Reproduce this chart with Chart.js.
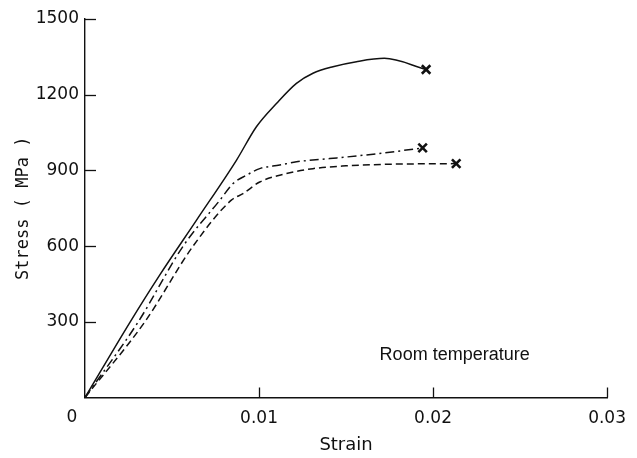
<!DOCTYPE html>
<html>
<head>
<meta charset="utf-8">
<script src="https://cdn.jsdelivr.net/npm/chart.js@4/dist/chart.umd.min.js"></script>
<style>
  html, body { margin: 0; padding: 0; background: #ffffff; }
  #wrap { width: 637px; height: 458px; }
</style>
</head>
<body>
<div id="wrap"><canvas id="c" width="637" height="458"></canvas></div>
<script>
// ---- data ----
const xTicks = [0, 0.01, 0.02, 0.03];
const yTicks = [0, 300, 600, 900, 1200, 1500];

const solidStrain = [0, 0.0026, 0.0043, 0.0064, 0.0087, 0.00985, 0.0110, 0.01215, 0.0131, 0.01425, 0.0156, 0.0172, 0.0196];
const solidStress = [0, 300, 486, 702, 940, 1073, 1165, 1245, 1285, 1311, 1331, 1344, 1300];

const dashDotStrain = [0, 0.00306, 0.00564, 0.00775, 0.00851, 0.00928, 0.01004, 0.01119, 0.01215, 0.01406, 0.0150, 0.01692, 0.0194];
const dashDotStress = [0, 300, 600, 782, 848, 881, 907, 921, 934, 947, 953, 967, 989];

const dashedStrain = [0, 0.00344, 0.00621, 0.00841, 0.00908, 0.01004, 0.01119, 0.0131, 0.0150, 0.0172, 0.02133];
const dashedStress = [0, 300, 600, 782, 808, 854, 881, 907, 918, 924, 927];

const noteText = 'Room temperature';
const xTitle = 'Strain';
const yTitle = 'Stress ( MPa )';

function pts(xs, ys) { return xs.map((x, i) => ({ x: x, y: ys[i] })); }
function endMarker(n) { return Array.from({ length: n }, (_, i) => i === n - 1 ? 6 : 0); }

const ink = '#111111';

const extras = {
  id: 'extras',
  afterDraw(chart) {
    const ctx = chart.ctx;
    const xs = chart.scales.x, ys = chart.scales.y;
    const bottom = ys.bottom;
    ctx.save();
    ctx.strokeStyle = ink;
    ctx.lineWidth = 1.3;
    // inward ticks on y axis
    ys.ticks.forEach(t => {
      if (t.value === 0) return;
      const py = Math.round(ys.getPixelForValue(t.value)) + 0.5;
      ctx.beginPath(); ctx.moveTo(xs.getPixelForValue(0), py); ctx.lineTo(xs.getPixelForValue(0) + 11, py); ctx.stroke();
    });
    // inward ticks on x axis
    xs.ticks.forEach(t => {
      if (t.value === 0) return;
      const px = Math.round(xs.getPixelForValue(t.value)) + 0.5;
      ctx.beginPath(); ctx.moveTo(px, bottom); ctx.lineTo(px, bottom - 10); ctx.stroke();
    });
    // shared origin label
    ctx.fillStyle = ink;
    ctx.font = '17px "DejaVu Sans"';
    ctx.textAlign = 'center';
    ctx.textBaseline = 'middle';
    ctx.fillText('0', xs.getPixelForValue(0) - 13, bottom + 20);
    // annotation
    ctx.font = '18px "Liberation Sans"';
    ctx.textAlign = 'left';
    ctx.textBaseline = 'alphabetic';
    ctx.fillText(noteText, xs.getPixelForValue(0.01693), ys.getPixelForValue(149));
    ctx.restore();
  }
};

const common = { showLine: true, borderColor: ink, backgroundColor: ink, borderWidth: 1.5,
  pointStyle: 'crossRot', pointBorderWidth: 2.6, cubicInterpolationMode: 'monotone', clip: false };

new Chart(document.getElementById('c'), {
  type: 'scatter',
  data: {
    datasets: [
      Object.assign({ data: pts(solidStrain, solidStress), pointRadius: endMarker(solidStrain.length) }, common),
      Object.assign({ data: pts(dashDotStrain, dashDotStress), borderDash: [9, 4, 2, 4], pointRadius: endMarker(dashDotStrain.length) }, common),
      Object.assign({ data: pts(dashedStrain, dashedStress), borderDash: [7, 4], pointRadius: endMarker(dashedStrain.length) }, common)
    ]
  },
  options: {
    responsive: false,
    animation: false,
    events: [],
    layout: { padding: { top: 19, right: 29, left: 0, bottom: 0 } },
    plugins: { legend: { display: false }, tooltip: { enabled: false } },
    scales: {
      x: {
        type: 'linear', min: 0, max: 0.03,
        afterBuildTicks: s => { s.ticks = xTicks.map(v => ({ value: v })); },
        afterFit: s => { s.height = 60.5; },
        grid: { display: false, drawTicks: false },
        border: { display: true, color: ink, width: 1.4 },
        ticks: { color: ink, font: { family: 'DejaVu Sans', size: 17 }, padding: 11, maxRotation: 0,
                 callback: v => v === 0 ? '' : String(v) },
        title: { display: true, text: xTitle, color: ink, font: { family: 'DejaVu Sans', size: 18 }, padding: { top: 0, bottom: 2 } }
      },
      y: {
        type: 'linear', min: 0, max: 1500,
        afterBuildTicks: s => { s.ticks = yTicks.map(v => ({ value: v })); },
        afterFit: s => { s.width = 85; },
        grid: { display: false, drawTicks: false },
        border: { display: true, color: ink, width: 1.4 },
        ticks: { color: ink, font: { family: 'DejaVu Sans', size: 17 }, padding: 6,
                 callback: v => v === 0 ? '' : String(v) },
        title: { display: true, text: yTitle, color: ink, font: { family: 'DejaVu Sans Mono', size: 17 }, padding: { top: 13, bottom: 0 } }
      }
    }
  },
  plugins: [extras]
});
</script>
</body>
</html>
